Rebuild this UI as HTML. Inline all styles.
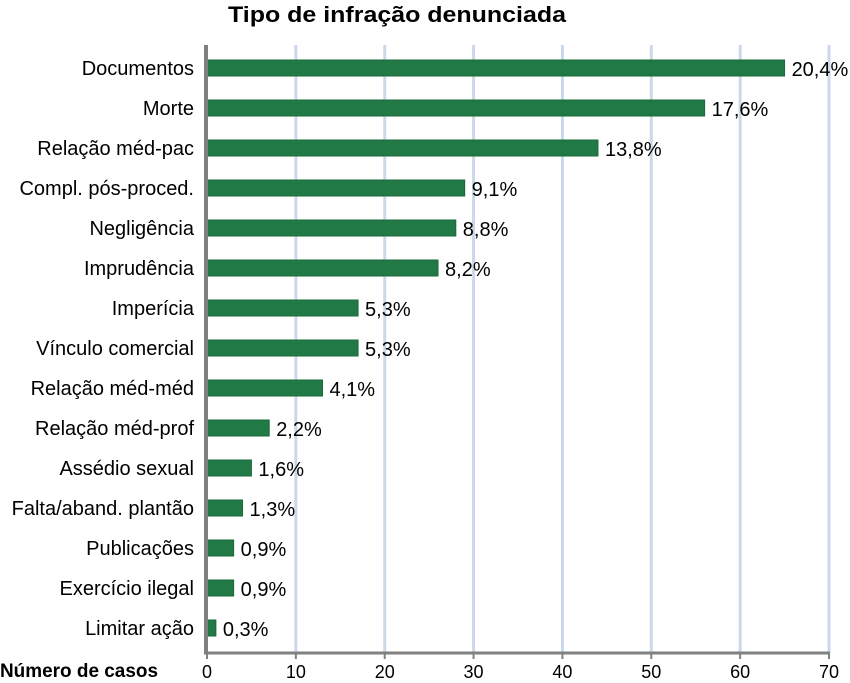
<!DOCTYPE html>
<html><head><meta charset="utf-8"><style>
body{margin:0;background:#fff;}
svg{display:block;font-family:"Liberation Sans",sans-serif;}
</style></head><body>
<svg id="c" width="850" height="683">
<text x="397" y="22" text-anchor="middle" font-size="22" font-weight="bold" fill="#000" textLength="338" lengthAdjust="spacingAndGlyphs">Tipo de infração denunciada</text>
<text x="0" y="677" font-size="19" font-weight="bold" fill="#000" textLength="158" lengthAdjust="spacingAndGlyphs">Número de casos</text>
</svg>
<script>
const categories=["Documentos","Morte","Relação méd-pac","Compl. pós-proced.","Negligência","Imprudência","Imperícia","Vínculo comercial","Relação méd-méd","Relação méd-prof","Assédio sexual","Falta/aband. plantão","Publicações","Exercício ilegal","Limitar ação"];
const values=[65,56,44,29,28,26,17,17,13,7,5,4,3,3,1];
const percentLabels=["20,4%","17,6%","13,8%","9,1%","8,8%","8,2%","5,3%","5,3%","4,1%","2,2%","1,6%","1,3%","0,9%","0,9%","0,3%"];
const ticks=[0,10,20,30,40,50,60,70];
const svg=document.getElementById('c');
const NS='http://www.w3.org/2000/svg';
const x0=207,x1=829,yTop=45,yBot=653,maxV=70;
const xs=v=>x0+(x1-x0)*v/maxV;
const rowH=40,firstY=68;
const ys=i=>firstY+i*rowH;
function mk(t,a){const e=document.createElementNS(NS,t);for(const k in a)e.setAttribute(k,a[k]);svg.appendChild(e);return e;}
ticks.forEach((t,i)=>{
 if(t>0){const g=mk('line',{x1:xs(t),x2:xs(t),y1:yTop,y2:yBot,stroke:'#c9d9ea','stroke-width':3});
 
 }
 const tk=mk('line',{x1:xs(t),x2:xs(t),y1:yBot,y2:yBot+6,stroke:'#808080','stroke-width':2});
 
 
 const tl=mk('text',{x:xs(t),y:678,'text-anchor':'middle','font-size':18,fill:'#000'});
 tl.textContent=t;
 
 
});
categories.forEach((c,i)=>{
 const y=ys(i);
 const b=mk('rect',{x:x0,y:y-8,width:xs(values[i])-x0,height:16,fill:'#217a45',stroke:'#1a6a3a','stroke-width':1});
 
 
 const l=mk('text',{x:194,y:y+7,'text-anchor':'end','font-size':20,fill:'#000'});
 l.textContent=c;
 
 
 const v=mk('text',{x:xs(values[i])+7,y:y+8,'font-size':20,fill:'#000'});
 v.textContent=percentLabels[i];
 
 
});
const ya=mk('line',{x1:x0-1,x2:x0-1,y1:yTop,y2:yBot,stroke:'#808080','stroke-width':4});


const xa=mk('line',{x1:x0-3,x2:x1+1,y1:yBot,y2:yBot,stroke:'#808080','stroke-width':3});


</script>
</body></html>
